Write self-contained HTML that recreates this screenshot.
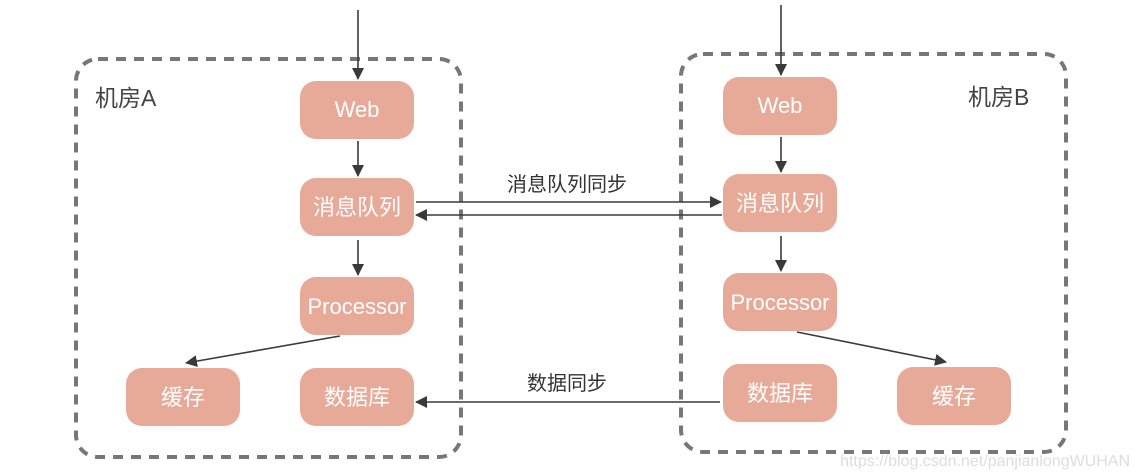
<!DOCTYPE html>
<html><head><meta charset="utf-8"><style>
body{margin:0;background:#fff;width:1142px;height:476px;overflow:hidden;font-family:"Liberation Sans","Noto Sans CJK SC",sans-serif}
</style></head><body>
<svg width="1142" height="476" xmlns="http://www.w3.org/2000/svg" style="position:absolute;left:0;top:0">
<defs><marker id="a" markerWidth="12" markerHeight="12" refX="11" refY="6" orient="auto" markerUnits="userSpaceOnUse"><path d="M0,0 L12,6 L0,12 Z" fill="#3a3a3a"/></marker></defs>
<g fill="none" stroke="#777" stroke-width="4" stroke-dasharray="10,8">
<rect x="76" y="59" width="385" height="398" rx="22"/>
<rect x="681" y="54" width="385" height="398" rx="22"/>
</g>
<g fill="#e8aa98">
<rect x="300" y="81" width="114" height="58" rx="16"/>
<rect x="300" y="178" width="114" height="58" rx="16"/>
<rect x="300" y="277" width="114" height="58" rx="16"/>
<rect x="126" y="368" width="114" height="58" rx="16"/>
<rect x="300" y="368" width="114" height="58" rx="16"/>
<rect x="723" y="77" width="114" height="58" rx="16"/>
<rect x="723" y="174" width="114" height="58" rx="16"/>
<rect x="723" y="273" width="114" height="58" rx="16"/>
<rect x="723" y="364" width="114" height="58" rx="16"/>
<rect x="897" y="367" width="114" height="58" rx="16"/>
</g>
<g stroke="#3a3a3a" stroke-width="1.6" fill="none" marker-end="url(#a)">
<line x1="358" y1="10" x2="358" y2="79"/>
<line x1="358" y1="141" x2="358" y2="176"/>
<line x1="358" y1="240" x2="358" y2="275"/>
<line x1="781" y1="5" x2="781" y2="75"/>
<line x1="781" y1="137" x2="781" y2="172"/>
<line x1="781" y1="236" x2="781" y2="271"/>
<line x1="416" y1="202" x2="721" y2="202"/>
<line x1="722" y1="215" x2="416" y2="215"/>
<line x1="720" y1="402" x2="416" y2="402"/>
<line x1="340" y1="336" x2="186" y2="363"/>
<line x1="797" y1="332" x2="946" y2="362"/>
</g>
<g fill="#fff" font-size="22" text-anchor="middle">
<text x="357" y="117">Web</text>
<text x="357" y="215">消息队列</text>
<text x="357" y="314">Processor</text>
<text x="183" y="405">缓存</text>
<text x="357" y="405">数据库</text>
<text x="780" y="113">Web</text>
<text x="780" y="211">消息队列</text>
<text x="780" y="310">Processor</text>
<text x="780" y="401">数据库</text>
<text x="954" y="404">缓存</text>
</g>
<g fill="#444" font-size="23">
<text x="95" y="106">机房A</text>
<text x="968" y="105">机房B</text>
</g>
<g fill="#333" font-size="20" text-anchor="middle">
<text x="567" y="191">消息队列同步</text>
<text x="567" y="390">数据同步</text>
</g>
<text x="1130" y="466" text-anchor="end" fill="#ddd" font-size="16">https://blog.csdn.net/panjianlongWUHAN</text>
</svg>
</body></html>
